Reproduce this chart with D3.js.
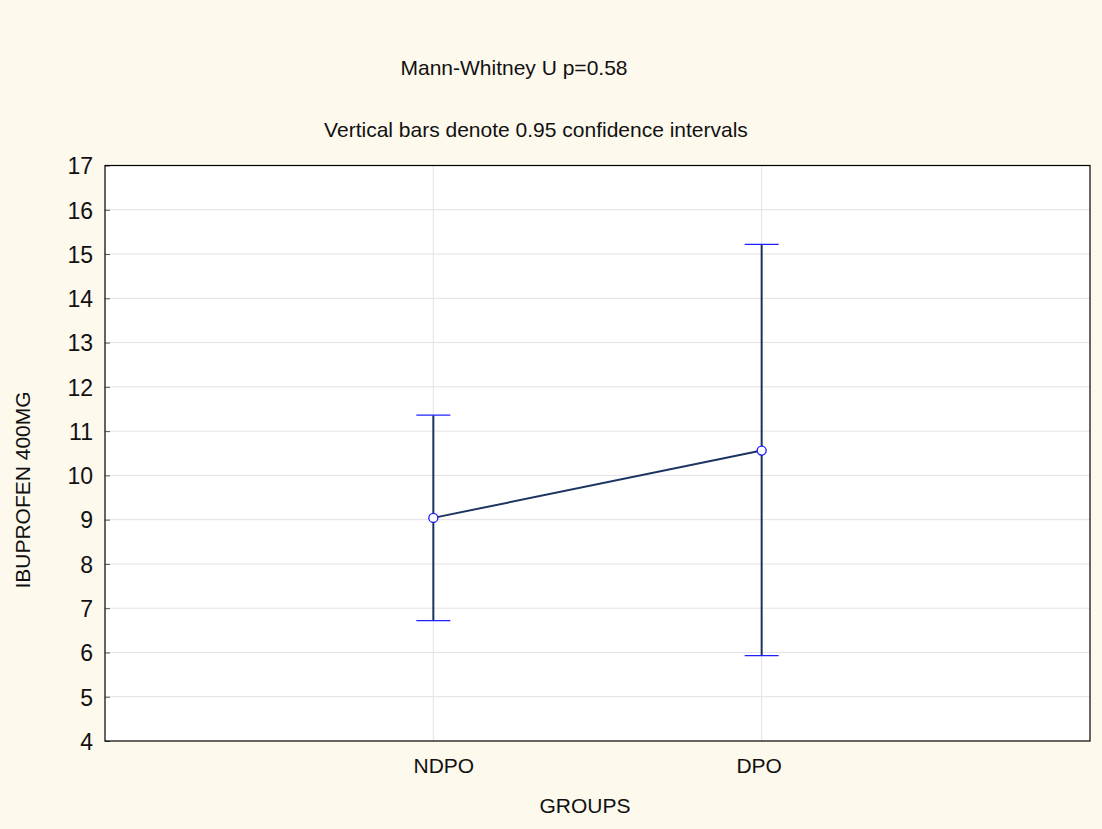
<!DOCTYPE html>
<html>
<head>
<meta charset="utf-8">
<script src="https://cdn.jsdelivr.net/npm/d3@7"></script>
<style>
  body { margin: 0; background: #fdf9ed; }
  svg { display: block; font-family: "Liberation Sans", Arial, sans-serif; }
</style>
</head>
<body>
<div id="chart"></div>
<script>
// data
const groups = ["NDPO", "DPO"];
const means = [9.04, 10.56];
const lower = [6.72, 5.93];
const upper = [11.36, 15.22];
const yTicks = [4, 5, 6, 7, 8, 9, 10, 11, 12, 13, 14, 15, 16, 17];

const width = 1102, height = 829;
const margin = {top: 165.5, right: 12, bottom: 88, left: 105};

const svg = d3.select("#chart")
  .append("svg")
  .attr("width", width)
  .attr("height", height);

svg.append("rect")
  .attr("width", width)
  .attr("height", height)
  .attr("fill", "#fdf9ed");

const x = d3.scalePoint()
  .domain(groups)
  .range([margin.left, width - margin.right])
  .padding(1);

const y = d3.scaleLinear()
  .domain([4, 17])
  .range([height - margin.bottom, margin.top]);

// plot background
svg.append("rect")
  .attr("x", margin.left)
  .attr("y", margin.top)
  .attr("width", width - margin.left - margin.right)
  .attr("height", height - margin.top - margin.bottom)
  .attr("fill", "white");

// grid
svg.append("g")
  .selectAll("line")
  .data(yTicks.slice(1, -1))
  .join("line")
  .attr("x1", margin.left)
  .attr("x2", width - margin.right)
  .attr("y1", d => y(d))
  .attr("y2", d => y(d))
  .attr("stroke", "#e2e2e2")
  .attr("stroke-width", 1);

svg.append("g")
  .selectAll("line")
  .data(groups)
  .join("line")
  .attr("x1", d => x(d))
  .attr("x2", d => x(d))
  .attr("y1", margin.top)
  .attr("y2", height - margin.bottom)
  .attr("stroke", "#e2e2e2")
  .attr("stroke-width", 1);

// y axis (ticks inside)
const yAxis = svg.append("g")
  .attr("transform", `translate(${margin.left},0)`)
  .call(d3.axisRight(y).tickValues(yTicks).tickSize(5).tickFormat(d3.format("d")));
yAxis.select(".domain").remove();
yAxis.selectAll("line").attr("stroke", "#555");
yAxis.selectAll("text")
  .attr("x", -12)
  .attr("text-anchor", "end")
  .attr("dy", "0.36em")
  .attr("font-size", 23)
  .attr("fill", "#111");

// x axis labels
const xAxis = svg.append("g")
  .attr("transform", `translate(0,${height - margin.bottom})`)
  .call(d3.axisBottom(x).tickSize(0).tickPadding(0));
xAxis.select(".domain").remove();
xAxis.selectAll("text")
  .attr("font-size", 21)
  .attr("fill", "#111")
  .attr("y", 32)
  .attr("dy", 0)
  .attr("dx", d => d === "NDPO" ? 10 : -3);

// frame
svg.append("rect")
  .attr("x", margin.left)
  .attr("y", margin.top)
  .attr("width", width - margin.left - margin.right)
  .attr("height", height - margin.top - margin.bottom)
  .attr("fill", "none")
  .attr("stroke", "#000")
  .attr("stroke-width", 1.2);

// error bars
const bars = svg.append("g");
groups.forEach((g, i) => {
  bars.append("line")
    .attr("x1", x(g)).attr("x2", x(g))
    .attr("y1", y(lower[i])).attr("y2", y(upper[i]))
    .attr("stroke", "#1c3461")
    .attr("stroke-width", 2);
  [lower[i], upper[i]].forEach(v => {
    bars.append("line")
      .attr("x1", x(g) - 17).attr("x2", x(g) + 17)
      .attr("y1", y(v)).attr("y2", y(v))
      .attr("stroke", "#2020ff")
      .attr("stroke-width", 1.3);
  });
});

// mean line
const line = d3.line()
  .x((d, i) => x(groups[i]))
  .y(d => y(d));
svg.append("path")
  .datum(means)
  .attr("d", line)
  .attr("fill", "none")
  .attr("stroke", "#1c3461")
  .attr("stroke-width", 2);

svg.append("g")
  .selectAll("circle")
  .data(means)
  .join("circle")
  .attr("cx", (d, i) => x(groups[i]))
  .attr("cy", d => y(d))
  .attr("r", 4.5)
  .attr("fill", "white")
  .attr("stroke", "#1a1aff")
  .attr("stroke-width", 1.3);

// titles
svg.append("text")
  .attr("x", 514)
  .attr("y", 75)
  .attr("text-anchor", "middle")
  .attr("font-size", 21)
  .attr("fill", "#111")
  .text("Mann-Whitney U p=0.58");

svg.append("text")
  .attr("x", 536)
  .attr("y", 137)
  .attr("text-anchor", "middle")
  .attr("font-size", 21)
  .attr("fill", "#111")
  .text("Vertical bars denote 0.95 confidence intervals");

svg.append("text")
  .attr("x", 585)
  .attr("y", 813)
  .attr("text-anchor", "middle")
  .attr("font-size", 21)
  .attr("fill", "#111")
  .text("GROUPS");

svg.append("text")
  .attr("transform", `translate(30,490) rotate(-90)`)
  .attr("text-anchor", "middle")
  .attr("font-size", 21)
  .attr("fill", "#111")
  .text("IBUPROFEN 400MG");
</script>
</body>
</html>
